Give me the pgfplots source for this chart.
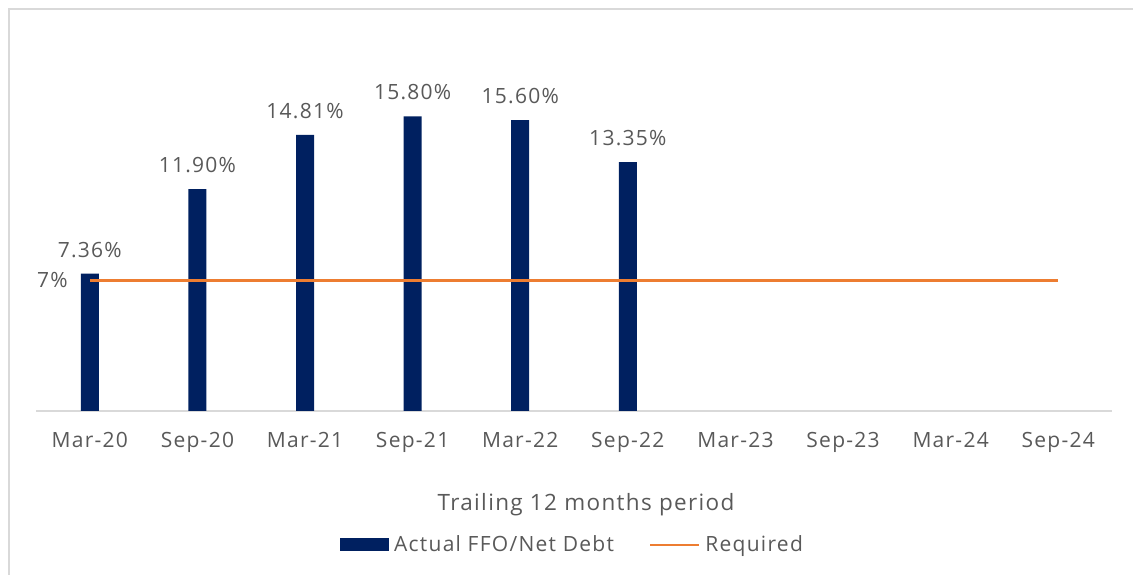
\documentclass[border=0pt]{standalone}
\usepackage{fontspec}
\setmainfont{Open Sans}[LetterSpace=6]
\usepackage{pgfplots}
\pgfplotsset{compat=1.18}
\definecolor{navy}{HTML}{002060}
\definecolor{orng}{HTML}{ED7D31}
\definecolor{txt}{HTML}{595959}
\definecolor{gridc}{HTML}{D9D9D9}
\begin{document}
\fontsize{21}{25}\selectfont
\begin{tikzpicture}[x=1pt,y=1pt]
\path[use as bounding box] (0,0) rectangle (1133,575);
\draw[gridc, line width=1.5pt] (9,0) -- (9,566) -- (1133,566);
\begin{axis}[
  at={(36pt,164pt)}, anchor=south west, scale only axis,
  width=1076pt, height=373pt,
  xmin=-0.5, xmax=9.5, ymin=0, ymax=20,
  axis x line*=bottom, axis y line=none,
  x axis line style={gridc, line width=1.5pt, -},
  xtick={0,...,9},
  xticklabels={Mar-20,Sep-20,Mar-21,Sep-21,Mar-22,Sep-22,Mar-23,Sep-23,Mar-24,Sep-24},
  major tick length=0pt,
  xticklabel style={text=txt, anchor=base, inner sep=0pt, yshift=-37pt},
  ytick=\empty,
  /pgf/number format/assume math mode=true,
  xlabel={Trailing 12 months period},
  xlabel style={at={(axis description cs:0.5,0)}, anchor=center, yshift=-94pt, xshift=12pt, text=txt,
    font=\fontsize{22.5}{26}\selectfont},
  legend style={at={(axis description cs:0.5,0)}, anchor=center, yshift=-134pt, draw=none, fill=none,
    legend columns=2, text=txt,
    nodes={inner xsep=5pt},
    /tikz/every even column/.append style={column sep=30pt}},
]
\addplot[ybar, bar width=18pt, fill=navy, draw=none,
  nodes near coords={\pgfmathprintnumber[fixed,precision=2,fixed zerofill]{\pgfplotspointmeta}\%},
  every node near coord/.append style={text=txt, anchor=south, inner sep=0pt, yshift=16pt},
  legend image code/.code={\fill[navy] (0pt,-6.5pt) rectangle (49pt,6.5pt);}]
  coordinates {(0,7.36) (1,11.90) (2,14.81) (3,15.80) (4,15.60) (5,13.35)};
\addlegendentry{Actual FFO/Net Debt}
\addplot[orng, line width=2.5pt, mark=none,
  legend image code/.code={\draw[orng, line width=2.5pt] (0pt,0pt) -- (49pt,0pt);}]
  coordinates {(0,7) (1,7) (2,7) (3,7) (4,7) (5,7) (6,7) (7,7) (8,7) (9,7)};
\addlegendentry{Required}
\node[anchor=east, text=txt, inner sep=0pt, xshift=-22pt] at (axis cs:0,7) {7\%};
\end{axis}
\end{tikzpicture}
\end{document}
